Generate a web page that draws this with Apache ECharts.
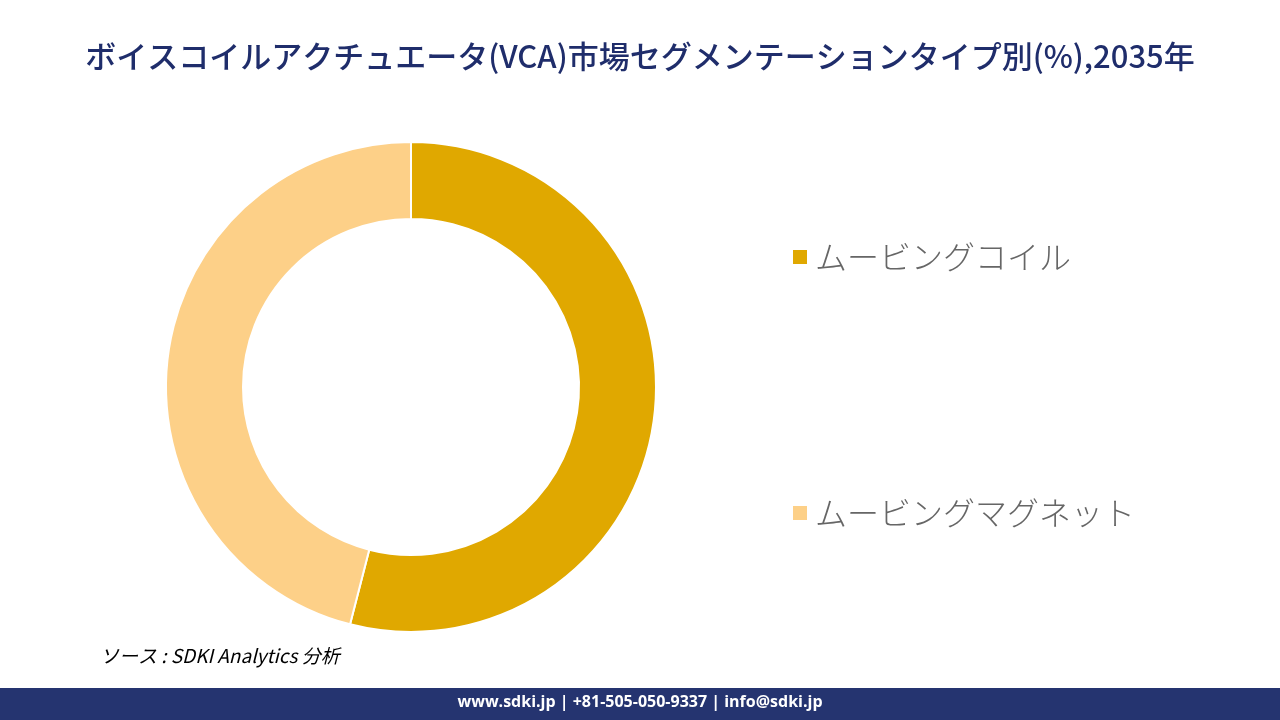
<!DOCTYPE html>
<html><head><meta charset="utf-8">
<script src="https://cdn.jsdelivr.net/npm/echarts@6/dist/echarts.min.js"></script>
<style>html,body{margin:0;padding:0;background:#fff}#c{width:1280px;height:720px}</style>
</head><body><div id="c"></div>
<script>
const categories = ['ムービングコイル', 'ムービングマグネット'];
const values = [54, 46];
const colors = ['#E0A800', '#FDD088'];
const chart = echarts.init(document.getElementById('c'));
chart.setOption({
  animation: false,
  title: {
    text: 'ボイスコイルアクチュエータ(VCA)市場セグメンテーションタイプ別(%),2035年',
    left: 'center', top: 36,
    textStyle: {fontFamily: 'Noto Sans CJK JP', fontSize: 31, fontWeight: 500, color: '#1f2d6b'}
  },
  legend: {
    orient: 'vertical', left: 786, top: 236, itemGap: 224,
    itemWidth: 16, itemHeight: 16, icon: 'rect',
    textStyle: {fontFamily: 'Noto Sans CJK JP', fontSize: 32, color: '#666', fontWeight: 300, padding: [0, 0, 0, 2]},
    data: categories
  },
  series: [{
    type: 'pie', center: [411, 387], radius: [168, 245],
    startAngle: 90, clockwise: true,
    label: {show: false}, labelLine: {show: false},
    itemStyle: {borderColor: '#fff', borderWidth: 2},
    data: categories.map((n, i) => ({name: n, value: values[i], itemStyle: {color: colors[i]}}))
  }],
  graphic: [
    {type: 'text', left: 100, top: 646, style: {text: 'ソース : SDKI Analytics 分析', font: 'italic 19px "Noto Sans CJK JP"', fill: '#000'}},
    {type: 'rect', shape: {x: 0, y: 688, width: 1280, height: 32}, style: {fill: '#253470'}},
    {type: 'text', left: 'center', top: 694, style: {text: 'www.sdki.jp | +81-505-050-9337 | info@sdki.jp', font: 'bold 16px "Open Sans"', fill: '#fff'}}
  ]
});
</script></body></html>
